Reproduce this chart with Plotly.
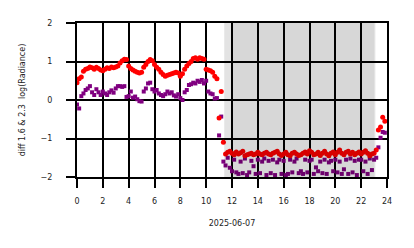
import plotly.graph_objects as go

# sample times (hours, 10-minute grid)
hours = [h + m / 60 for h in range(24) for m in range(0, 60, 10)]

red_vals = [
    0.45, 0.55, 0.60, 0.75, 0.80, 0.82,
    0.86, 0.84, 0.80, 0.85, 0.82, 0.78,
    0.76, 0.80, 0.84, 0.82, 0.86, 0.84,
    0.86, 0.88, 0.96, 1.02, 1.06, 1.05,
    0.88, 0.82, 0.78, 0.75, 0.72, 0.70,
    0.72, 0.85, 0.92, 1.00, 1.05, 1.02,
    0.92, 0.85, 0.80, 0.72, 0.66, 0.62,
    0.64, 0.66, 0.68, 0.70, 0.72, 0.70,
    0.62, 0.68, 0.80, 0.88, 0.95, 1.00,
    1.08, 1.10, 1.06, 1.10, 1.08, 1.06,
    0.80, 0.78, 0.76, 0.72, 0.62, 0.55,
    -0.47, 0.22, -1.10, -1.40, -1.36, -1.33,
    -1.38, -1.42, -1.35, -1.40, -1.37, -1.33,
    -1.45, -1.42, -1.40, -1.38, -1.42, -1.40,
    -1.36, -1.40, -1.42, -1.38, -1.36, -1.40,
    -1.42, -1.38, -1.36, -1.33, -1.40, -1.44,
    -1.40, -1.36, -1.42, -1.45, -1.38, -1.36,
    -1.40, -1.44, -1.42, -1.38, -1.35, -1.40,
    -1.32, -1.36, -1.42, -1.40, -1.36, -1.44,
    -1.38, -1.33, -1.40, -1.45, -1.38, -1.35,
    -1.42, -1.36, -1.30, -1.38, -1.42, -1.36,
    -1.33, -1.40, -1.36, -1.42, -1.38, -1.35,
    -1.40, -1.36, -1.32, -1.38, -1.45, -1.40,
    -1.38, -1.30, -0.78, -0.70, -0.45, -0.55,
]

purple_vals = [
    -0.12, -0.22, 0.10, 0.17, 0.26, 0.30,
    0.36, 0.20, 0.13, 0.28, 0.20, 0.13,
    0.22, 0.17, 0.13, 0.20, 0.25, 0.19,
    0.30, 0.36, 0.36, 0.34, 0.36, 0.08,
    0.10, 0.22, 0.06, 0.09, 0.02, -0.03,
    -0.04, 0.22, 0.30, 0.43, 0.45, 0.28,
    0.22, 0.26, 0.17, 0.13, 0.10, 0.15,
    0.22, 0.17, 0.20, 0.12, 0.09, 0.15,
    0.05, 0.00, 0.20, 0.26, 0.39, 0.41,
    0.45, 0.43, 0.50, 0.47, 0.52, 0.43,
    0.50, 0.22, 0.17, 0.15, 0.04, 0.05,
    -0.92, -0.43, -1.60, -1.70, -1.50, -1.76,
    -1.85, -1.55, -1.88, -1.92, -1.60, -1.90,
    -1.52, -1.95, -1.88, -1.58, -1.72, -1.92,
    -1.55, -1.90, -1.60, -1.52, -1.95, -1.58,
    -1.90, -1.55, -1.95, -1.62, -1.55, -1.92,
    -1.58, -1.95, -1.92, -1.55, -1.88, -1.60,
    -1.52, -1.90, -1.85, -1.92, -1.55, -1.88,
    -1.58, -1.55, -1.92, -1.75, -1.85, -1.60,
    -1.90, -1.55, -1.92, -1.62, -1.58, -1.85,
    -1.55, -1.88, -1.60, -1.92, -1.80, -1.55,
    -1.92, -1.52, -1.88, -1.58, -1.95, -1.55,
    -1.55, -1.85, -1.60, -1.92, -1.52, -1.82,
    -1.55, -1.50, -1.23, -0.98, -0.83, -0.85,
]

x_ticks = list(range(0, 25, 2))
y_ticks = [-2, -1, 0, 1, 2]
night_outer = [11.4, 23.1]
night_inner = [12.0, 23.0]

fig = go.Figure()
fig.add_trace(go.Scatter(x=hours, y=purple_vals, mode="markers",
                         marker=dict(symbol="square", size=4, color="#800080", line=dict(width=0)),
                         showlegend=False))
fig.add_trace(go.Scatter(x=hours, y=red_vals, mode="markers",
                         marker=dict(symbol="circle", size=5, color="#ff0000", line=dict(width=0)),
                         showlegend=False))

fig.add_shape(type="rect", xref="x", yref="paper", x0=night_outer[0], x1=night_outer[1],
              y0=0, y1=1, fillcolor="rgba(0,0,0,0.11)", line=dict(width=0), layer="above")
fig.add_shape(type="rect", xref="x", yref="paper", x0=night_inner[0], x1=night_inner[1],
              y0=0, y1=1, fillcolor="rgba(0,0,0,0.05)", line=dict(width=0), layer="above")

axis_font = dict(family="DejaVu Sans", size=8, color="#222222")
fig.update_layout(
    width=414, height=248,
    margin=dict(l=77, r=27, t=23, b=71),
    paper_bgcolor="white", plot_bgcolor="white",
    font=axis_font,
    xaxis=dict(range=[0, 24], tickvals=x_ticks, ticktext=[str(v) for v in x_ticks],
               showgrid=True, gridcolor="black", gridwidth=2,
               zeroline=False, showline=True, linecolor="black", linewidth=2, mirror=True,
               ticks="outside", ticklen=9, tickwidth=2, tickcolor="black",
               ticklabelstandoff=6,
               title=dict(text="2025-06-07", font=axis_font, standoff=16)),
    yaxis=dict(range=[-2, 2], tickvals=y_ticks, ticktext=["\u22122", "\u22121", "0", "1", "2"],
               showgrid=True, gridcolor="black", gridwidth=2,
               zeroline=True, zerolinecolor="black", zerolinewidth=2,
               showline=True, linecolor="black", linewidth=2, mirror=True,
               ticks="outside", ticklen=9, tickwidth=2, tickcolor="black",
               ticklabelstandoff=12,
               title=dict(text="diff 1.6 & 2.3  log(Radiance)", font=axis_font, standoff=14)),
)

fig.write_html("out.html")
